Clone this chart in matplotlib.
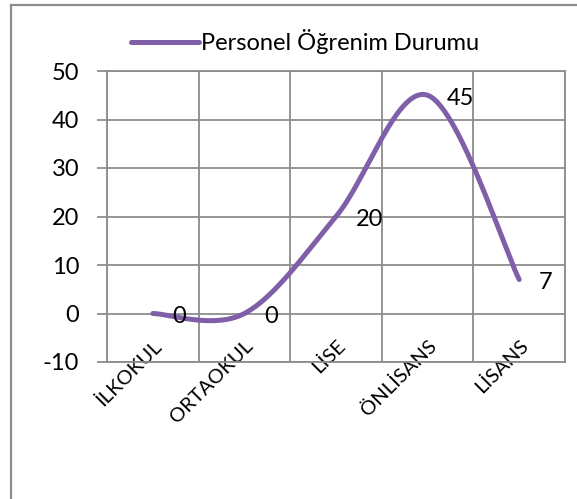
"""
Personel Öğrenim Durumu - smoothed line chart
"""

import numpy as np
import matplotlib
matplotlib.use("Agg")
import matplotlib.pyplot as plt
from matplotlib.lines import Line2D

# Categories and values
categories = ["İLKOKUL", "ORTAOKUL", "LİSE", "ÖNLİSANS", "LİSANS"]
values = [0, 0, 20, 45, 7]
series_name = "Personel Öğrenim Durumu"
y_ticks = [-10, 0, 10, 20, 30, 40, 50]

LINE_COLOR = "#7F60A8"
GRID_COLOR = "#8C8C8C"

plt.rcParams["font.family"] = ["Lato", "DejaVu Sans"]


def smooth_curve(xs, ys, n=60):
    """
    Excel-like smoothing: Catmull-Rom segments as cubic Bezier curves

    Args:
        xs, ys: point coordinates
        n: samples per segment

    Returns:
        Arrays of x and y along the curve
    """
    pts = np.column_stack([xs, ys]).astype(float)
    padded = np.vstack([pts[0], pts, pts[-1]])
    t = np.linspace(0, 1, n)[:, None]
    out = []
    for i in range(len(pts) - 1):
        p0, p1, p2, p3 = padded[i], padded[i + 1], padded[i + 2], padded[i + 3]
        c1 = p1 + (p2 - p0) / 6
        c2 = p2 - (p3 - p1) / 6
        seg = ((1 - t) ** 3) * p1 + 3 * ((1 - t) ** 2) * t * c1 \
            + 3 * (1 - t) * t ** 2 * c2 + t ** 3 * p2
        out.append(seg if i == 0 else seg[1:])
    curve = np.vstack(out)
    return curve[:, 0], curve[:, 1]


fig = plt.figure(figsize=(5.77, 4.99), dpi=100)
W, H = 577, 499
# plot area in pixels: left 107, right 565, top 71, bottom 362
ax = fig.add_axes([107 / W, 1 - 362 / H, (565 - 107) / W, (362 - 71) / H])

x = np.arange(len(categories))
sx, sy = smooth_curve(x, values)
line, = ax.plot(sx, sy, color=LINE_COLOR, lw=3.6, solid_capstyle="round",
                label=series_name, zorder=3)

ax.set_xlim(-0.5, len(categories) - 0.5)
ax.set_ylim(-10, 50)
ax.set_yticks(y_ticks)
ax.set_yticklabels([str(v) for v in y_ticks], fontsize=17)

# gridlines between categories (Excel style)
for b in np.arange(-0.5, len(categories), 1.0):
    ax.axvline(b, color=GRID_COLOR, lw=1.3, zorder=1)
for v in y_ticks:
    ax.axhline(v, color=GRID_COLOR, lw=1.3, zorder=1)

for s in ax.spines.values():
    s.set_color(GRID_COLOR)
    s.set_linewidth(1.3)

ax.tick_params(axis="y", length=7, width=1.3, color=GRID_COLOR, pad=13)
ax.set_xticks(x)
ax.set_xticklabels(categories, fontsize=14.5)
ax.tick_params(axis="x", length=0, pad=-18)
for lab in ax.get_xticklabels():
    lab.set_rotation(45)
    lab.set_ha("right")
    lab.set_va("top")
    lab.set_rotation_mode("anchor")

# data labels to the right of each point
for xi, v in zip(x, values):
    ax.annotate(str(v), (xi, v), xytext=(14, -2), textcoords="offset points",
                ha="left", va="center", fontsize=17)

ax.legend(handles=[line], loc="center", bbox_to_anchor=(305 / W, 1 - 42 / H),
          bbox_transform=fig.transFigure, frameon=False, fontsize=17,
          handlelength=2.9, handletextpad=0.1, borderpad=0)

# outer chart frame (cropped at right and bottom)
fig.add_artist(Line2D([11 / W, 11 / W], [0, 1 - 5 / H], color=GRID_COLOR,
                      lw=1.6, transform=fig.transFigure))
fig.add_artist(Line2D([11 / W, 1], [1 - 5 / H, 1 - 5 / H], color=GRID_COLOR,
                      lw=1.6, transform=fig.transFigure))

fig.savefig("out.png", dpi=100)
